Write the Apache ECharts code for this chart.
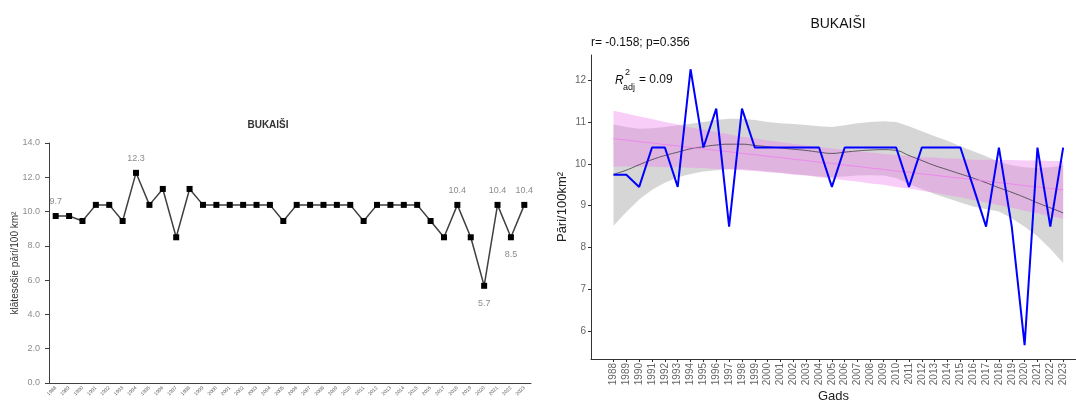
<!DOCTYPE html>
<html>
<head>
<meta charset="utf-8">
<script src="https://cdn.jsdelivr.net/npm/echarts@6/dist/echarts.min.js"></script>
<style>
  html, body { margin: 0; padding: 0; background: #fff; }
  #chart { width: 1076px; height: 401px; }
</style>
</head>
<body>
<div id="chart"></div>
<script>
// years and observed densities (pairs / 100 km2)
const years = [1988, 1989, 1990, 1991, 1992, 1993, 1994, 1995, 1996, 1997, 1998, 1999,
  2000, 2001, 2002, 2003, 2004, 2005, 2006, 2007, 2008, 2009, 2010, 2011,
  2012, 2013, 2014, 2015, 2016, 2017, 2018, 2019, 2020, 2021, 2022, 2023]
const density = [9.74, 9.74, 9.45, 10.39, 10.39, 9.45, 12.26, 10.39, 11.32, 8.5, 11.32, 10.39,
  10.39, 10.39, 10.39, 10.39, 10.39, 9.45, 10.39, 10.39, 10.39, 10.39, 10.39, 9.45,
  10.39, 10.39, 10.39, 10.39, 9.45, 8.5, 10.39, 8.5, 5.67, 10.39, 8.5, 10.39]
// labelled points on the left chart
const labelPos = { 1988: 'top', 1994: 'top', 2018: 'top', 2020: 'bottom', 2021: 'top', 2022: 'bottom', 2023: 'top' }

// linear fit and its band
const lmFit = [10.60, 10.57, 10.53, 10.50, 10.46, 10.43, 10.39, 10.36, 10.32, 10.29, 10.25, 10.22,
  10.18, 10.15, 10.11, 10.08, 10.04, 10.01, 9.97, 9.94, 9.90, 9.87, 9.83, 9.80,
  9.76, 9.73, 9.69, 9.66, 9.62, 9.59, 9.55, 9.52, 9.48, 9.45, 9.41, 9.38]
const lmLow = [9.93, 9.94, 9.93, 9.93, 9.92, 9.92, 9.91, 9.90, 9.88, 9.87, 9.85, 9.83,
  9.80, 9.78, 9.74, 9.72, 9.68, 9.65, 9.61, 9.58, 9.53, 9.50, 9.45, 9.41,
  9.36, 9.31, 9.25, 9.20, 9.14, 9.08, 9.01, 8.95, 8.88, 8.82, 8.75, 8.69]
const lmHigh = [11.27, 11.20, 11.13, 11.07, 11.00, 10.94, 10.87, 10.82, 10.76, 10.71, 10.65, 10.61,
  10.56, 10.52, 10.48, 10.44, 10.40, 10.37, 10.33, 10.30, 10.27, 10.24, 10.21, 10.19,
  10.16, 10.15, 10.13, 10.12, 10.10, 10.10, 10.09, 10.09, 10.08, 10.08, 10.07, 10.07]

// loess smooth and its band
const loessFit = [9.75, 9.85, 9.98, 10.10, 10.20, 10.28, 10.36, 10.41, 10.45, 10.47, 10.47, 10.44,
  10.41, 10.38, 10.35, 10.32, 10.28, 10.25, 10.28, 10.31, 10.33, 10.34, 10.32, 10.20,
  10.08, 9.96, 9.86, 9.76, 9.66, 9.55, 9.43, 9.32, 9.20, 9.07, 8.95, 8.83]
const loessLow = [8.52, 8.85, 9.15, 9.38, 9.55, 9.68, 9.76, 9.82, 9.85, 9.87, 9.87, 9.85,
  9.82, 9.79, 9.76, 9.73, 9.70, 9.68, 9.70, 9.72, 9.73, 9.72, 9.66, 9.52,
  9.40, 9.28, 9.18, 9.08, 8.98, 8.92, 8.86, 8.70, 8.50, 8.27, 7.97, 7.63]
const loessHigh = [10.94, 10.88, 10.84, 10.85, 10.88, 10.92, 10.96, 11.00, 11.05, 11.08, 11.08, 11.05,
  11.00, 10.97, 10.95, 10.93, 10.90, 10.88, 10.92, 10.97, 11.00, 11.02, 11.00, 10.90,
  10.78, 10.66, 10.55, 10.42, 10.30, 10.18, 10.05, 9.97, 9.92, 9.90, 9.92, 9.96]

const rightTicks = [6, 7, 8, 9, 10, 11, 12]

const chart = echarts.init(document.getElementById('chart'))

const pairs = arr => years.map((y, i) => [y, arr[i]])

const leftData = density.map((v, i) => {
  const pos = labelPos[years[i]]
  if (!pos) return v
  return { value: v, label: { show: true, position: pos, distance: pos === 'top' ? 7 : 10 } }
})

// one polygon per band, projected through the axis scales
const bandSeries = (low, high, color) => ({
  type: 'custom',
  xAxisIndex: 1,
  yAxisIndex: 1,
  silent: true,
  data: [[years[0], low[0]]],
  renderItem: (params, api) => {
    const top = years.map((y, i) => api.coord([y, high[i]]))
    const bottom = years.map((y, i) => api.coord([y, low[i]])).reverse()
    return {
      type: 'polygon',
      shape: { points: top.concat(bottom) },
      style: { fill: color, opacity: 0.4 }
    }
  }
})

const font = '"Liberation Sans", Arial, sans-serif'

let option = {
  animation: false,
  textStyle: { fontFamily: font },
  grid: [
    { left: 49, top: 143, width: 482, height: 240, outerBoundsMode: 'none', containLabel: false },
    { left: 591, top: 55, right: 0, bottom: 42, outerBoundsMode: 'none', containLabel: false }
  ],
  xAxis: [
    {
      gridIndex: 0,
      type: 'category',
      data: years.map(String),
      axisLine: { lineStyle: { color: '#404040', width: 1 } },
      axisTick: { length: 3, lineStyle: { color: '#404040' } },
      axisLabel: { interval: 0, rotate: 45, fontSize: 5, color: '#595959', margin: 4 }
    },
    {
      gridIndex: 1,
      type: 'value',
      min: 1986.25,
      max: 2024,
      splitLine: { show: false },
      axisLine: { show: true, lineStyle: { color: '#333', width: 1 } },
      axisTick: { show: true, length: 3, customValues: years, lineStyle: { color: '#333' } },
      axisLabel: {
        customValues: years, rotate: 90, fontSize: 10, color: '#666', margin: 4,
        formatter: v => String(v)
      },
      name: 'Gads',
      nameLocation: 'middle',
      nameGap: 31,
      nameMoveOverlap: false,
      nameTextStyle: { fontSize: 13, color: '#222' }
    }
  ],
  yAxis: [
    {
      gridIndex: 0,
      type: 'value',
      min: 0,
      max: 14,
      interval: 2,
      splitLine: { show: false },
      axisLine: { show: true, lineStyle: { color: '#404040', width: 1 } },
      axisTick: { show: true, length: 4, lineStyle: { color: '#404040' } },
      axisLabel: { fontSize: 9, color: '#8c8c8c', margin: 9, formatter: v => v.toFixed(1) },
      name: 'klātesošie pāri/100 km²',
      nameLocation: 'middle',
      nameGap: 29,
      nameMoveOverlap: false,
      nameTextStyle: { fontSize: 10, color: '#333' }
    },
    {
      gridIndex: 1,
      type: 'value',
      min: 5.34,
      max: 12.6,
      splitLine: { show: false },
      axisLine: { show: true, lineStyle: { color: '#333', width: 1 } },
      axisTick: { show: true, length: 3, customValues: rightTicks, lineStyle: { color: '#333' } },
      axisLabel: { customValues: rightTicks, fontSize: 10, color: '#666', margin: 5 },
      name: 'Pāri/100km²',
      nameLocation: 'middle',
      nameGap: 22,
      nameMoveOverlap: false,
      nameTextStyle: { fontSize: 13, color: '#222' }
    }
  ],
  series: [
    {
      name: 'density',
      type: 'line',
      xAxisIndex: 0,
      yAxisIndex: 0,
      data: leftData,
      symbol: 'rect',
      symbolSize: 6,
      itemStyle: { color: '#000' },
      lineStyle: { color: '#404040', width: 1.5 },
      label: { show: false, fontSize: 9, color: '#8c8c8c', formatter: p => p.value.toFixed(1) }
    },
    bandSeries(loessLow, loessHigh, '#999999'),
    bandSeries(lmLow, lmHigh, '#ee82ee'),
    {
      type: 'line', xAxisIndex: 1, yAxisIndex: 1,
      data: pairs(loessFit), symbol: 'none', smooth: true,
      lineStyle: { color: '#3a3a3a', width: 0.8 }
    },
    {
      type: 'line', xAxisIndex: 1, yAxisIndex: 1,
      data: pairs(lmFit), symbol: 'none',
      lineStyle: { color: '#ee82ee', width: 0.9 }
    },
    {
      type: 'line', xAxisIndex: 1, yAxisIndex: 1,
      data: pairs(density), symbol: 'none',
      lineStyle: { color: '#0000ff', width: 2 }
    }
  ],
  graphic: [
    {
      type: 'text', x: 268, y: 125,
      style: { text: 'BUKAIŠI', font: 'bold 10px ' + font, fill: '#333', align: 'center', verticalAlign: 'middle' }
    },
    {
      type: 'text', x: 838, y: 24,
      style: { text: 'BUKAIŠI', font: '14px ' + font, fill: '#111', align: 'center', verticalAlign: 'middle' }
    },
    {
      type: 'text', x: 591, y: 43,
      style: { text: 'r= -0.158; p=0.356', font: '12px ' + font, fill: '#111', align: 'left', verticalAlign: 'middle' }
    },
    {
      type: 'text', x: 615, y: 81,
      style: { text: 'R', font: 'italic 12px ' + font, fill: '#111', align: 'left', verticalAlign: 'middle' }
    },
    {
      type: 'text', x: 625, y: 73,
      style: { text: '2', font: '9px ' + font, fill: '#111', align: 'left', verticalAlign: 'middle' }
    },
    {
      type: 'text', x: 623, y: 88,
      style: { text: 'adj', font: '9px ' + font, fill: '#111', align: 'left', verticalAlign: 'middle' }
    },
    {
      type: 'text', x: 639, y: 80,
      style: { text: '= 0.09', font: '12px ' + font, fill: '#111', align: 'left', verticalAlign: 'middle' }
    }
  ]
}

chart.setOption(option)
</script>
</body>
</html>
